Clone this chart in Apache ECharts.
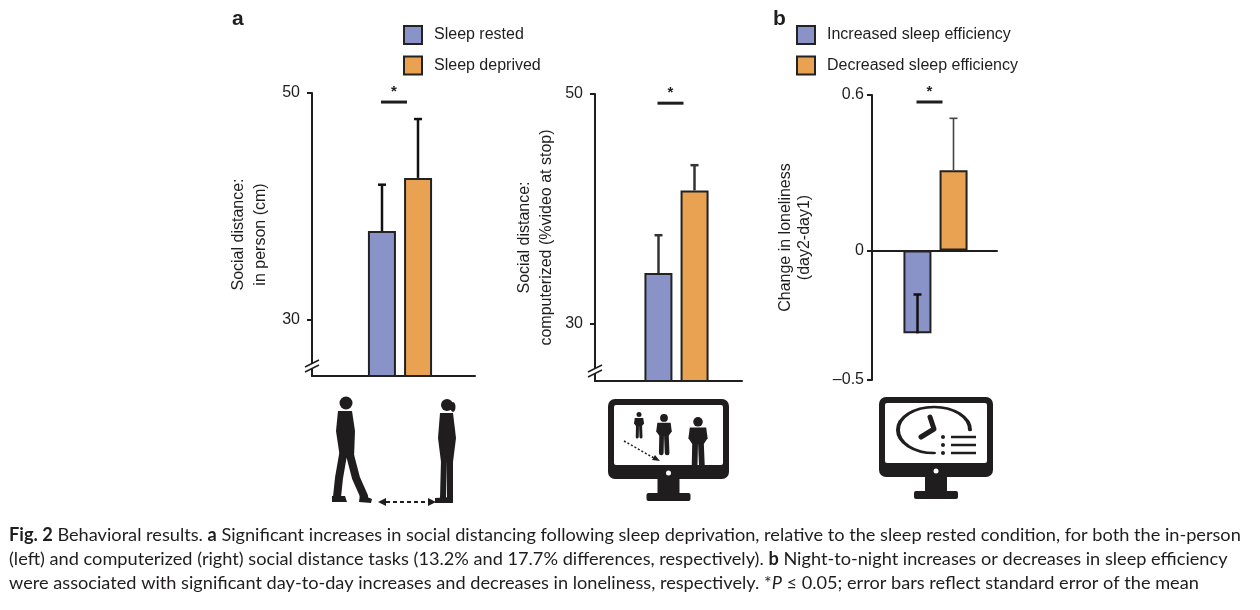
<!DOCTYPE html>
<html>
<head>
<meta charset="utf-8">
<script src="https://cdn.jsdelivr.net/npm/echarts@6/dist/echarts.min.js"></script>
<style>
  html, body { margin: 0; padding: 0; background: #fff; }
  #chart { width: 1260px; height: 610px; }
</style>
</head>
<body>
<div id="chart"></div>
<script>
// data
const tasks = ['In person', 'Computerized'];
const restedMean = [37.8, 34.4];
const restedUpper = [41.9, 37.7];
const deprivedMean = [42.5, 41.6];
const deprivedUpper = [47.7, 43.8];
const sigLevelA = [49.2, 49.2];

const efficiencyGroups = ['Increased sleep efficiency', 'Decreased sleep efficiency'];
const lonelinessMean = [-0.32, 0.31];
const lonelinessErrEnd = [-0.17, 0.51];
const sigLevelB = 0.573;

const ticksA = [30, 50];
const ticksB = [-0.5, 0, 0.6];
const axisNamesA = ['Social distance:\nin person (cm)', 'Social distance:\ncomputerized (%video at stop)'];
const axisNameB = 'Change in loneliness\n(day2-day1)';

const ink = '#1f1d1e';
const blue = '#8a93c8';
const orange = '#e9a152';
const font = 'Liberation Sans';

let chart = echarts.init(document.getElementById('chart'));

const grid = [];
const xAxis = [];
const yAxis = [];
const series = [];

// one panel = an axis grid (drawn lines) + a data grid (bars, centred on the pair)
const addPanel = (p) => {
  const ai = grid.length;
  grid.push({ left: p.left, top: p.top, width: p.axisWidth, height: p.height });
  grid.push({ left: p.dataLeft, top: p.top, width: p.dataWidth, height: p.height });
  const di = ai + 1;
  xAxis.push({
    gridIndex: ai, type: 'category', data: [''],
    axisLine: { lineStyle: { color: ink, width: 2 } },
    axisTick: { show: false }, axisLabel: { show: false }, splitLine: { show: false }
  });
  xAxis.push({ gridIndex: di, type: 'category', data: [p.category], show: false });
  yAxis.push({
    gridIndex: ai, type: 'value', min: p.min, max: p.max,
    name: p.name, nameLocation: 'middle', nameRotate: 90, nameGap: p.nameGap,
    nameTextStyle: { fontFamily: font, fontSize: 16, color: ink, lineHeight: p.nameLineHeight },
    axisLine: { show: true, lineStyle: { color: ink, width: 2 } },
    axisTick: { show: true, length: 5, lineStyle: { color: ink, width: 2 }, customValues: p.ticks },
    axisLabel: {
      fontFamily: font, fontSize: 16, color: ink, margin: p.labelMargin, customValues: p.ticks,
      formatter: (v) => String(v).replace('-', '\u2013')
    },
    splitLine: { show: false }
  });
  yAxis.push({ gridIndex: di, type: 'value', min: p.min, max: p.max, show: false });

  p.bars.forEach((b) => {
    series.push({
      name: b.name, type: 'bar', xAxisIndex: di, yAxisIndex: di,
      data: [b.value], barWidth: 28, barGap: '29%',
      itemStyle: { color: b.color, borderColor: '#222', borderWidth: 2 },
      emphasis: { disabled: true }, z: 2
    });
  });
  p.bars.forEach((b, k) => {
    const offset = k === 0 ? -18 : 18;
    series.push({
      type: 'custom', xAxisIndex: di, yAxisIndex: di, z: 5, silent: true,
      data: [[0, b.value, b.errEnd]],
      renderItem: (params, api) => {
        const a = api.coord([api.value(0), api.value(1)]);
        const e = api.coord([api.value(0), api.value(2)]);
        const x = a[0] + offset;
        const st = { stroke: b.errColor, lineWidth: b.errWidth };
        return {
          type: 'group', children: [
            { type: 'line', shape: { x1: x, y1: a[1], x2: x, y2: e[1] }, style: st },
            { type: 'line', shape: { x1: x - 4, y1: e[1], x2: x + 4, y2: e[1] }, style: st }
          ]
        };
      }
    });
  });
  // significance bar with asterisk
  series.push({
    type: 'custom', xAxisIndex: di, yAxisIndex: di, z: 5, silent: true,
    data: [[0, p.sig]],
    renderItem: (params, api) => {
      const c = api.coord([api.value(0), api.value(1)]);
      return {
        type: 'group', children: [
          { type: 'line', shape: { x1: c[0] - 19, y1: c[1], x2: c[0] + 7, y2: c[1] },
            style: { stroke: ink, lineWidth: 3 } },
          { type: 'text', x: c[0] - 6, y: c[1] - 3,
            style: { text: '*', fill: ink, font: 'bold 15px ' + font, align: 'center', verticalAlign: 'bottom' } }
        ]
      };
    }
  });
};

addPanel({
  left: 312, top: 93, height: 283, axisWidth: 163, dataLeft: 312, dataWidth: 176,
  min: 25, max: 50, ticks: ticksA, name: axisNamesA[0], nameGap: 40, nameLineHeight: 22, labelMargin: 12,
  category: tasks[0], sig: sigLevelA[0],
  bars: [
    { name: 'Sleep rested', value: restedMean[0], errEnd: restedUpper[0], color: blue, errColor: '#111', errWidth: 2.5 },
    { name: 'Sleep deprived', value: deprivedMean[0], errEnd: deprivedUpper[0], color: orange, errColor: '#111', errWidth: 2.5 }
  ]
});
addPanel({
  left: 595, top: 94, height: 287, axisWidth: 147, dataLeft: 595, dataWidth: 163,
  min: 25, max: 50, ticks: ticksA, name: axisNamesA[1], nameGap: 37, nameLineHeight: 22, labelMargin: 12,
  category: tasks[1], sig: sigLevelA[1],
  bars: [
    { name: 'Sleep rested', value: restedMean[1], errEnd: restedUpper[1], color: blue, errColor: '#333', errWidth: 2.5 },
    { name: 'Sleep deprived', value: deprivedMean[1], errEnd: deprivedUpper[1], color: orange, errColor: '#333', errWidth: 2.5 }
  ]
});
addPanel({
  left: 872, top: 95, height: 285, axisWidth: 125, dataLeft: 872, dataWidth: 127,
  min: -0.5, max: 0.6, ticks: ticksB, name: axisNameB, nameGap: 58, nameLineHeight: 19, labelMargin: 8,
  category: 'Loneliness', sig: sigLevelB,
  bars: [
    { name: efficiencyGroups[0], value: lonelinessMean[0], errEnd: lonelinessErrEnd[0], color: blue, errColor: '#111', errWidth: 2.5 },
    { name: efficiencyGroups[1], value: lonelinessMean[1], errEnd: lonelinessErrEnd[1], color: orange, errColor: '#444', errWidth: 1.6 }
  ]
});

// pictograms
const fillInk = { fill: ink };
const strokeInk = (w) => ({ stroke: ink, lineWidth: w, lineCap: 'round', lineJoin: 'round', fill: null });

const person = (cx, top, h) => {
  const r = h * 0.1;
  const sh = top + 2 * r + 1;
  const hip = top + h * 0.56;
  return [
    { type: 'circle', shape: { cx: cx, cy: top + r, r: r }, style: fillInk },
    { type: 'polygon', shape: { points: [[cx - h * 0.17, sh], [cx + h * 0.17, sh], [cx + h * 0.2, sh + h * 0.22], [cx + h * 0.12, hip], [cx - h * 0.12, hip], [cx - h * 0.2, sh + h * 0.22]] }, style: fillInk },
    { type: 'polyline', shape: { points: [[cx - h * 0.06, hip - 2], [cx - h * 0.07, top + h]] }, style: strokeInk(h * 0.12) },
    { type: 'polyline', shape: { points: [[cx + h * 0.06, hip - 2], [cx + h * 0.08, top + h]] }, style: strokeInk(h * 0.12) }
  ];
};

const monitorFrame = (x, y, w, h) => [
  { type: 'rect', shape: { x: x, y: y, width: w, height: h, r: 7 }, style: fillInk },
  { type: 'rect', shape: { x: x + 6, y: y + 6, width: w - 12, height: h - 20, r: 2 }, style: { fill: '#fff' } },
  { type: 'rect', shape: { x: x + w / 2 - 11, y: y + h, width: 22, height: 15 }, style: fillInk },
  { type: 'rect', shape: { x: x + w / 2 - 22, y: y + h + 14, width: 44, height: 8, r: 2 }, style: fillInk }
];
const monitorBezel = (x, y, w, h) => [
  { type: 'rect', shape: { x: x + 6, y: y + h - 14, width: w - 12, height: 8 }, style: fillInk },
  { type: 'circle', shape: { cx: x + w / 2, cy: y + h - 6, r: 2.5 }, style: { fill: '#fff' } }
];

const graphic = [
  { type: 'text', left: 232, top: 9, style: { text: 'a', font: 'bold 21px ' + font, fill: ink } },
  { type: 'text', left: 773, top: 9, style: { text: 'b', font: 'bold 21px ' + font, fill: ink } },

  // axis breaks
  { type: 'polygon', shape: { points: [[305, 367], [319, 360], [319, 365], [305, 372]] }, style: { fill: '#fff' }, z: 20 },
  { type: 'line', shape: { x1: 305, y1: 367, x2: 319, y2: 360 }, style: { stroke: ink, lineWidth: 1.5 }, z: 21 },
  { type: 'line', shape: { x1: 305, y1: 372, x2: 319, y2: 365 }, style: { stroke: ink, lineWidth: 1.5 }, z: 21 },
  { type: 'polygon', shape: { points: [[588, 372], [602, 365], [602, 370], [588, 377]] }, style: { fill: '#fff' }, z: 20 },
  { type: 'line', shape: { x1: 588, y1: 372, x2: 602, y2: 365 }, style: { stroke: ink, lineWidth: 1.5 }, z: 21 },
  { type: 'line', shape: { x1: 588, y1: 377, x2: 602, y2: 370 }, style: { stroke: ink, lineWidth: 1.5 }, z: 21 },

  // walking man
  { type: 'circle', shape: { cx: 346, cy: 403, r: 6.5 }, style: fillInk },
  { type: 'polygon', shape: { points: [[338, 411], [352, 411], [355, 431], [354, 458], [340, 458], [336, 431]] }, style: fillInk },
  { type: 'polyline', shape: { points: [[343, 455], [339, 478], [337, 497]] }, style: strokeInk(8) },
  { type: 'polyline', shape: { points: [[350, 455], [356, 478], [364, 496]] }, style: strokeInk(8) },
  { type: 'polygon', shape: { points: [[332, 496], [345, 496], [347, 502], [332, 502]] }, style: fillInk },
  { type: 'polygon', shape: { points: [[360, 494], [372, 499], [371, 503], [359, 502]] }, style: fillInk },
  // standing woman
  { type: 'circle', shape: { cx: 447, cy: 405, r: 6 }, style: fillInk },
  { type: 'ellipse', shape: { cx: 453, cy: 407, rx: 2.5, ry: 5 }, style: fillInk },
  { type: 'polygon', shape: { points: [[440, 413], [453, 413], [456, 438], [453, 462], [441, 462], [438, 438]] }, style: fillInk },
  { type: 'polyline', shape: { points: [[444, 460], [443, 498]] }, style: strokeInk(6) },
  { type: 'polyline', shape: { points: [[450, 460], [450, 498]] }, style: strokeInk(6) },
  { type: 'polygon', shape: { points: [[435, 498], [453, 497], [453, 503], [435, 503]] }, style: fillInk },
  // dashed distance arrow
  { type: 'line', shape: { x1: 386, y1: 502, x2: 428, y2: 502 }, style: { stroke: ink, lineWidth: 2, lineDash: [4, 3] } },
  { type: 'polygon', shape: { points: [[378, 502], [386, 498], [386, 506]] }, style: fillInk },
  { type: 'polygon', shape: { points: [[436, 502], [428, 498], [428, 506]] }, style: fillInk }
];

graphic.push(...monitorFrame(608, 399, 121, 80));
graphic.push(...person(639, 412, 25), ...person(664, 414, 39), ...person(698, 417, 48));
graphic.push(
  { type: 'line', shape: { x1: 624, y1: 441, x2: 654, y2: 458 }, style: { stroke: ink, lineWidth: 1.5, lineDash: [2, 2] } },
  { type: 'polygon', shape: { points: [[660, 461], [652, 460], [655, 455]] }, style: fillInk }
);
graphic.push(...monitorBezel(608, 399, 121, 80));

graphic.push(...monitorFrame(879, 397, 114, 80));
graphic.push(...monitorBezel(879, 397, 114, 80));
graphic.push(
  { type: 'arc', x: 934, y: 430, scaleY: 0.64,
    shape: { cx: 0, cy: 0, r: 36, startAngle: Math.PI / 2, endAngle: Math.PI * 2, clockwise: true },
    style: { stroke: ink, lineWidth: 4, lineCap: 'round', fill: null }, strokeNoScale: true },
  { type: 'polyline', shape: { points: [[930, 417], [934, 429], [921, 437]] }, style: strokeInk(5) }
);
[437, 445, 453].forEach((y) => {
  graphic.push(
    { type: 'circle', shape: { cx: 943, cy: y, r: 2 }, style: fillInk },
    { type: 'line', shape: { x1: 951, y1: y, x2: 976, y2: y }, style: { stroke: ink, lineWidth: 2.5 } }
  );
});

// caption, sized so the first line spans the page width like the original
const capFont = 'Lato';
const captionLines = [
  '{b|Fig. 2} Behavioral results. {b|a} Significant increases in social distancing following sleep deprivation, relative to the sleep rested condition, for both the in-person',
  '(left) and computerized (right) social distance tasks (13.2% and 17.7% differences, respectively). {b|b} Night-to-night increases or decreases in sleep efficiency',
  'were associated with significant day-to-day increases and decreases in loneliness, respectively. *{i|P} \u2264 0.05; error bars reflect standard error of the mean'
];
const ctx = document.createElement('canvas').getContext('2d');
ctx.font = '16px ' + capFont;
const plain = captionLines[0].replace(/\{\w\|([^}]*)\}/g, '$1');
const capSize = Math.min(18.5, 16 * 1232 / ctx.measureText(plain).width);
const rich = {
  b: { fontWeight: 'bold', fontFamily: capFont, fontSize: capSize, fill: ink },
  i: { fontStyle: 'italic', fontFamily: capFont, fontSize: capSize, fill: ink }
};
captionLines.forEach((t, k) => {
  graphic.push({
    type: 'text', left: 9, top: 526 + k * 24,
    style: { text: t, rich: rich, fontFamily: capFont, fontSize: capSize, fill: ink }
  });
});

const legendBase = {
  orient: 'vertical', top: 25, padding: 0, icon: 'rect',
  itemWidth: 18, itemHeight: 18, itemGap: 10.5, selectedMode: false,
  textStyle: { fontFamily: font, fontSize: 16, color: ink, padding: [0, 0, 0, 7] }
};

const option = {
  backgroundColor: '#fff',
  animation: false,
  grid: grid,
  xAxis: xAxis,
  yAxis: yAxis,
  legend: [
    Object.assign({}, legendBase, { data: ['Sleep rested', 'Sleep deprived'], left: 403 }),
    Object.assign({}, legendBase, { data: efficiencyGroups, left: 796 })
  ],
  series: series,
  graphic: graphic
};
chart.setOption(option);
</script>
</body>
</html>
